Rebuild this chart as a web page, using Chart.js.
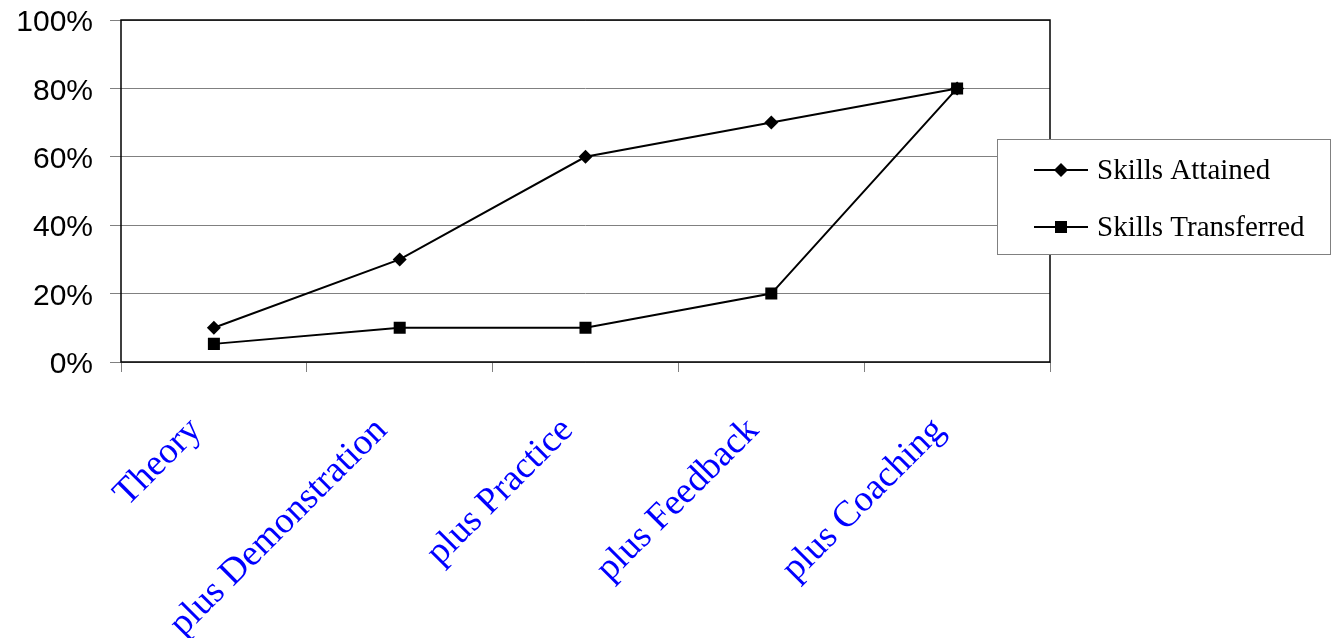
<!DOCTYPE html>
<html>
<head>
<meta charset="utf-8">
<script src="https://cdn.jsdelivr.net/npm/chart.js@4"></script>
<style>
  html, body { margin: 0; padding: 0; background: #fff; }
  #wrap { width: 1332px; height: 638px; }
</style>
</head>
<body>
<div id="wrap"><canvas id="chart" width="1332" height="638"></canvas></div>
<script>
const categories = ['Theory', 'plus Demonstration', 'plus Practice', 'plus Feedback', 'plus Coaching'];
const skillsAttained = [10, 30, 60, 70, 80];
const skillsTransferred = [5.3, 10, 10, 20, 80];
const yTicks = [0, 20, 40, 60, 80, 100];

// black frame round the plot area
const framePlugin = {
    id: 'frame',
    afterDraw(chart) {
        const a = chart.chartArea;
        const c = chart.ctx;
        c.save();
        c.strokeStyle = '#000';
        c.lineWidth = 1.5;
        c.strokeRect(a.left, a.top, a.right - a.left, a.bottom - a.top);
        c.restore();
    }
};

// boxed legend sitting over the right edge of the plot
const boxLegend = {
    id: 'boxLegend',
    afterDraw(chart) {
        const c = chart.ctx;
        const x0 = 997, y0 = 139, w = 334, h = 116;
        c.save();
        c.fillStyle = '#fff';
        c.fillRect(x0, y0, w, h);
        c.strokeStyle = '#808080';
        c.lineWidth = 1;
        c.strokeRect(x0 + 0.5, y0 + 0.5, w - 1, h - 1);
        chart.data.datasets.forEach((ds, i) => {
            const y = 170 + i * 57;
            c.strokeStyle = '#000';
            c.lineWidth = 2;
            c.beginPath();
            c.moveTo(1034, y);
            c.lineTo(1088, y);
            c.stroke();
            c.fillStyle = '#000';
            if (ds.pointStyle === 'rectRot') {
                c.beginPath();
                c.moveTo(1061, y - 7);
                c.lineTo(1068, y);
                c.lineTo(1061, y + 7);
                c.lineTo(1054, y);
                c.closePath();
                c.fill();
            } else {
                c.fillRect(1055, y - 6, 12, 12);
            }
            c.font = '29px "Liberation Serif"';
            c.textBaseline = 'middle';
            c.fillText(ds.label, 1097, y + 1);
        });
        c.restore();
    }
};

new Chart(document.getElementById('chart'), {
    type: 'line',
    data: {
        labels: categories,
        datasets: [{
            label: 'Skills Attained',
            data: skillsAttained,
            borderColor: '#000',
            backgroundColor: '#000',
            borderWidth: 2,
            pointStyle: 'rectRot',
            pointRadius: 7,
            pointBorderWidth: 0,
            tension: 0
        }, {
            label: 'Skills Transferred',
            data: skillsTransferred,
            borderColor: '#000',
            backgroundColor: '#000',
            borderWidth: 2,
            pointStyle: 'rect',
            pointRadius: 8.5,
            pointBorderWidth: 0,
            tension: 0
        }]
    },
    options: {
        responsive: false,
        animation: false,
        layout: { padding: { left: 0, right: 282, top: 20, bottom: 0 } },
        plugins: {
            legend: { display: false },
            tooltip: { enabled: false }
        },
        scales: {
            x: {
                offset: true,
                grid: {
                    offset: true,
                    drawOnChartArea: false,
                    drawTicks: true,
                    tickLength: 10,
                    color: '#808080'
                },
                border: { display: false },
                ticks: {
                    autoSkip: false,
                    maxRotation: 45,
                    minRotation: 45,
                    color: '#0000ff',
                    padding: 37,
                    labelOffset: -18,
                    font: { family: 'Liberation Serif', size: 37 }
                },
                afterFit(axis) {
                    axis.height = 276;
                    axis.paddingLeft = 0;
                    axis.paddingRight = 0;
                }
            },
            y: {
                min: 0,
                max: 100,
                afterBuildTicks(axis) { axis.ticks = yTicks.map(v => ({ value: v })); },
                grid: {
                    color: '#808080',
                    lineWidth: 1,
                    tickLength: 11
                },
                border: { display: false },
                ticks: {
                    color: '#000',
                    padding: 17,
                    labelOffset: 3,
                    font: { family: 'Liberation Sans', size: 30 },
                    callback: v => v + '%'
                },
                afterFit(axis) {
                    axis.width = 121;
                    axis.paddingTop = 0;
                    axis.paddingBottom = 0;
                }
            }
        }
    },
    plugins: [framePlugin, boxLegend]
});
</script>
</body>
</html>
